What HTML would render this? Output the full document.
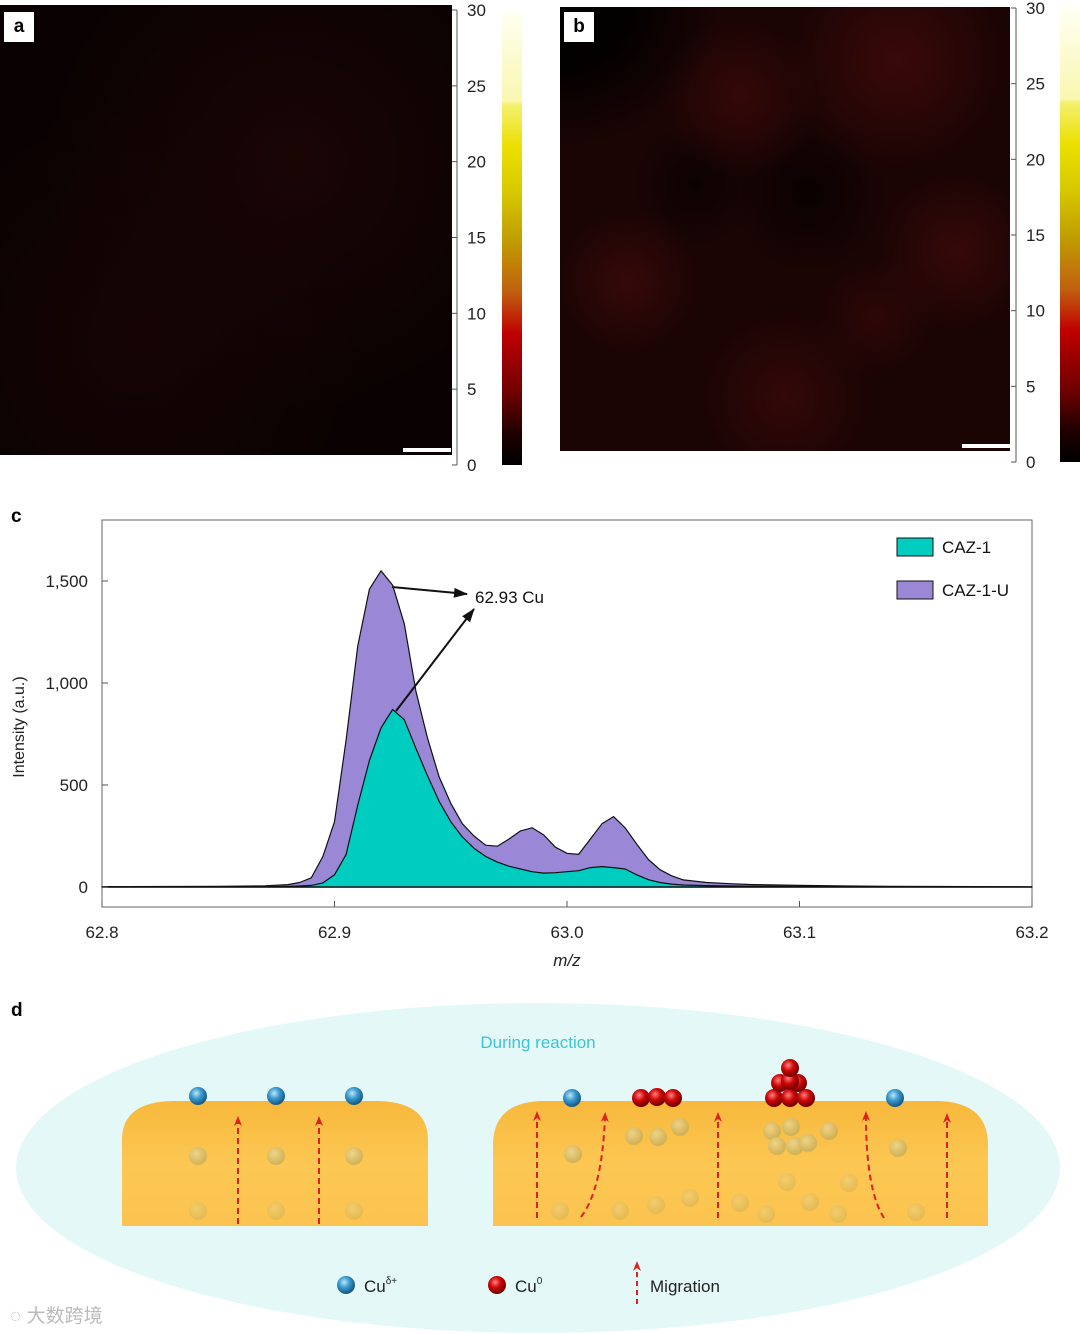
<!DOCTYPE html>
<html><head><meta charset="utf-8"><style>
body{margin:0;width:1080px;height:1334px;background:#fff;position:relative;overflow:hidden;font-family:"Liberation Sans",sans-serif}
.abs{position:absolute}
.cb{background:linear-gradient(to bottom,#fffff4 0%,#f9f7b0 20%,#f4f070 20.8%,#ece000 30%,#d8c800 40%,#c0a000 50%,#c06010 62%,#c00000 71%,#700000 84%,#200000 93%,#000 100%)}
.lbl{position:absolute;background:#fff;font-weight:bold;font-size:19px;width:30px;height:30px;line-height:30px;text-align:center}
</style></head><body>
<div class="abs" style="left:0;top:5px;width:452px;height:450px;background:radial-gradient(ellipse at 65% 35%,#1a0505,transparent 60%),radial-gradient(ellipse at 30% 75%,#160404,transparent 50%),#0a0202"></div>
<div class="lbl" style="left:4px;top:12px">a</div>
<div class="abs" style="left:403px;top:448px;width:48px;height:4px;background:#fff"></div>
<div class="abs" style="left:560px;top:7px;width:450px;height:444px;background:radial-gradient(ellipse 160px 140px at 0 0,#030000 40%,transparent 100%),radial-gradient(circle at 75% 12%,#3a0909 0,transparent 22%),radial-gradient(circle at 40% 20%,#340808 0,transparent 18%),radial-gradient(circle at 15% 62%,#360909 0,transparent 16%),radial-gradient(circle at 88% 55%,#360909 0,transparent 18%),radial-gradient(circle at 50% 88%,#330808 0,transparent 20%),radial-gradient(circle at 70% 70%,#2e0707 0,transparent 14%),radial-gradient(circle at 55% 42%,#0a0101 0,transparent 22%),radial-gradient(circle at 30% 40%,#0c0202 0,transparent 15%),#1a0404"></div>
<div class="lbl" style="left:564px;top:12px">b</div>
<div class="abs" style="left:962px;top:444px;width:48px;height:4px;background:#fff"></div>
<div class="abs cb" style="left:502px;top:10px;width:20px;height:455px"></div>
<div class="abs cb" style="left:1060px;top:8px;width:20px;height:454px"></div>
<svg class="abs" style="left:0;top:0" width="1080" height="1334">
<g id="cbaxes" font-size="17" fill="#222"></g>
<g id="chart"></g>
</svg>
<div class="abs" style="left:11px;top:506px;font-weight:bold;font-size:19px">c</div>
<div class="abs" style="left:11px;top:1000px;font-weight:bold;font-size:19px">d</div>
<svg class="abs" style="left:0;top:990px" width="1080" height="344">
<defs>
<linearGradient id="slab" x1="0" y1="0" x2="0" y2="1"><stop offset="0" stop-color="#f7b83c"/><stop offset="0.5" stop-color="#fcc752"/><stop offset="1" stop-color="#fbc450"/></linearGradient>
<radialGradient id="blue" cx="0.4" cy="0.35" r="0.6"><stop offset="0" stop-color="#bfe6f5"/><stop offset="0.5" stop-color="#3a9bd0"/><stop offset="1" stop-color="#1a5f8a"/></radialGradient>
<radialGradient id="red" cx="0.4" cy="0.35" r="0.6"><stop offset="0" stop-color="#ff8080"/><stop offset="0.5" stop-color="#d00808"/><stop offset="1" stop-color="#7a0000"/></radialGradient>
<radialGradient id="ghost" cx="0.4" cy="0.35" r="0.6"><stop offset="0" stop-color="#e8e0b0"/><stop offset="1" stop-color="#b8a860"/></radialGradient>
<marker id="ra" markerUnits="userSpaceOnUse" markerWidth="10" markerHeight="10" refX="5" refY="5" orient="auto"><path d="M0,1 L10,5 L0,9 L3,5 Z" fill="#e02020"/></marker>
</defs>
<ellipse cx="538" cy="178" rx="522" ry="165" fill="#e4f8f8"/>
<text x="538" y="58" text-anchor="middle" font-size="17" fill="#3cc6d0">During reaction</text>
<path d="M122,236 L122,150 Q122,111 175,111 L375,111 Q428,111 428,150 L428,236 Z" fill="url(#slab)"/>
<path d="M493,236 L493,155 Q493,111 545,111 L935,111 Q988,111 988,155 L988,236 Z" fill="url(#slab)"/>
<g opacity="0.6">
<circle cx="198" cy="166" r="9" fill="url(#ghost)"/><circle cx="276" cy="166" r="9" fill="url(#ghost)"/><circle cx="354" cy="166" r="9" fill="url(#ghost)"/>
<circle cx="198" cy="221" r="9" fill="url(#ghost)" opacity="0.5"/><circle cx="276" cy="221" r="9" fill="url(#ghost)" opacity="0.5"/><circle cx="354" cy="221" r="9" fill="url(#ghost)" opacity="0.5"/>
<circle cx="573" cy="164" r="9" fill="url(#ghost)"/><circle cx="634" cy="146" r="9" fill="url(#ghost)"/><circle cx="658" cy="147" r="9" fill="url(#ghost)"/><circle cx="680" cy="137" r="9" fill="url(#ghost)"/>
<circle cx="772" cy="141" r="9" fill="url(#ghost)"/><circle cx="791" cy="137" r="9" fill="url(#ghost)"/><circle cx="777" cy="156" r="9" fill="url(#ghost)"/><circle cx="795" cy="156" r="9" fill="url(#ghost)"/><circle cx="808" cy="153" r="9" fill="url(#ghost)"/><circle cx="829" cy="141" r="9" fill="url(#ghost)"/><circle cx="898" cy="158" r="9" fill="url(#ghost)"/>
<circle cx="560" cy="221" r="9" fill="url(#ghost)" opacity="0.5"/><circle cx="620" cy="221" r="9" fill="url(#ghost)" opacity="0.5"/><circle cx="656" cy="215" r="9" fill="url(#ghost)" opacity="0.5"/><circle cx="690" cy="208" r="9" fill="url(#ghost)" opacity="0.5"/><circle cx="740" cy="213" r="9" fill="url(#ghost)" opacity="0.5"/><circle cx="766" cy="224" r="9" fill="url(#ghost)" opacity="0.5"/><circle cx="787" cy="192" r="9" fill="url(#ghost)" opacity="0.5"/><circle cx="810" cy="212" r="9" fill="url(#ghost)" opacity="0.5"/><circle cx="838" cy="224" r="9" fill="url(#ghost)" opacity="0.5"/><circle cx="849" cy="193" r="9" fill="url(#ghost)" opacity="0.5"/><circle cx="916" cy="222" r="9" fill="url(#ghost)" opacity="0.5"/>
</g>
<g stroke="#e02020" stroke-width="2" stroke-dasharray="6,4" fill="none" marker-end="url(#ra)">
<path d="M238,234 L238,131"/><path d="M319,234 L319,131"/>
<path d="M537,228 L537,126"/><path d="M581,227 Q602,200 605,127"/><path d="M718,228 L718,127"/><path d="M884,228 Q866,200 866,126"/><path d="M947,228 L947,128"/>
</g>
<g>
<circle cx="198" cy="106" r="9" fill="url(#blue)"/><circle cx="276" cy="106" r="9" fill="url(#blue)"/><circle cx="354" cy="106" r="9" fill="url(#blue)"/><circle cx="572" cy="108" r="9" fill="url(#blue)"/><circle cx="895" cy="108" r="9" fill="url(#blue)"/>
</g>
<g>
<circle cx="641" cy="108" r="9" fill="url(#red)"/><circle cx="657" cy="107" r="9" fill="url(#red)"/><circle cx="673" cy="108" r="9" fill="url(#red)"/>
<circle cx="774" cy="108" r="9" fill="url(#red)"/><circle cx="790" cy="108" r="9" fill="url(#red)"/><circle cx="806" cy="108" r="9" fill="url(#red)"/>
<circle cx="780" cy="93" r="9" fill="url(#red)"/><circle cx="798" cy="93" r="9" fill="url(#red)"/><circle cx="790" cy="91" r="9" fill="url(#red)"/><circle cx="790" cy="78" r="9" fill="url(#red)"/>
</g>
<circle cx="346" cy="295" r="9" fill="url(#blue)"/>
<text x="364" y="302" font-size="17" fill="#222">Cu<tspan font-size="10" dy="-8">δ+</tspan></text>
<circle cx="497" cy="295" r="9" fill="url(#red)"/>
<text x="515" y="302" font-size="17" fill="#222">Cu<tspan font-size="10" dy="-8">0</tspan></text>
<path d="M637,314 L637,276" stroke="#e02020" stroke-width="2" stroke-dasharray="5,4" marker-end="url(#ra)"/>
<text x="650" y="302" font-size="17" fill="#222">Migration</text>
<text x="10" y="332" font-size="19" fill="#bbb" font-family="'Liberation Sans','Noto Sans CJK SC',sans-serif">◌ 大数跨境</text>
</svg>
<script>
const cbTicks=[0,5,10,15,20,25,30];
const mz=[62.80,62.85,62.87,62.88,62.885,62.89,62.895,62.90,62.905,62.91,62.915,62.92,62.925,62.93,62.935,62.94,62.945,62.95,62.955,62.96,62.965,62.97,62.975,62.98,62.985,62.99,62.995,63.00,63.005,63.01,63.015,63.02,63.025,63.03,63.035,63.04,63.045,63.05,63.06,63.07,63.08,63.10,63.12,63.14,63.20];
const cazU=[2,3,6,12,22,45,150,320,720,1180,1460,1550,1480,1290,960,730,540,410,310,250,205,200,235,275,290,255,195,165,160,235,310,345,290,210,135,85,55,35,22,16,12,8,5,3,1];
const caz=[0,0,1,3,5,8,20,60,160,400,620,780,870,820,680,545,420,320,245,190,150,122,102,88,75,68,70,75,80,95,100,95,88,60,36,22,14,10,7,5,4,3,2,1,0];
const xTicks=[62.8,62.9,63.0,63.1,63.2];
const yTicks=[0,500,1000,1500];
const yTickLabels=["0","500","1,000","1,500"];
const NS="http://www.w3.org/2000/svg";
function mk(t,a,p){const e=document.createElementNS(NS,t);for(const k in a)e.setAttribute(k,a[k]);p.appendChild(e);return e;}
const cba=document.getElementById('cbaxes');
[[457,10,465],[1016,8,462]].forEach(([ax,top,bot])=>{
  const cy=v=>bot-(v/30)*(bot-top);
  mk('line',{x1:ax,y1:top,x2:ax,y2:bot,stroke:'#555','stroke-width':1},cba);
  cbTicks.forEach(v=>{
    const l=mk('line',{x1:ax-5,y1:cy(v),x2:ax,y2:cy(v),stroke:'#555'},cba);
    
    
    const t=mk('text',{x:ax+10,y:cy(v)+6},cba);t.textContent=v;
    
    
  });
});
const g=document.getElementById('chart');
const X0=102,X1=1032,Y0=887,pxPer=306/1500;
const sx=v=>X0+(v-62.8)/(0.4)*(X1-X0);
const sy=v=>Y0-v*pxPer;
const fr=mk('rect',{x:X0,y:520,width:X1-X0,height:387,fill:'none',stroke:'#666','stroke-width':1},g);


function area(vals,fill,name){
  let d='M'+sx(mz[0])+','+Y0;
  mz.forEach((m,i)=>{d+=' L'+sx(m).toFixed(1)+','+sy(vals[i]).toFixed(1);});
  d+=' L'+sx(mz[mz.length-1])+','+Y0+' Z';
  const p=mk('path',{d:d,fill:fill,stroke:'#111','stroke-width':1.2,'stroke-linejoin':'round'},g);
  
  
}
area(cazU,'#9a88d6','area-caz-1-u');
area(caz,'#00cdc0','area-caz-1');
mk('line',{x1:X0,y1:Y0,x2:X1,y2:Y0,stroke:'#111','stroke-width':1.2},g);
xTicks.forEach(v=>{
  mk('line',{x1:sx(v),y1:907,x2:sx(v),y2:901,stroke:'#555'},g);
  const t=mk('text',{x:sx(v),y:938,'text-anchor':'middle','font-size':17,fill:'#222'},g);
  t.textContent=v.toFixed(1);
  
  
});
yTicks.forEach((v,i)=>{
  mk('line',{x1:X0,y1:sy(v),x2:X0+6,y2:sy(v),stroke:'#555'},g);
  const t=mk('text',{x:88,y:sy(v)+6,'text-anchor':'end','font-size':17,fill:'#222'},g);
  t.textContent=yTickLabels[i];
  
  
});
const xt=mk('text',{x:567,y:966,'text-anchor':'middle','font-size':17,'font-style':'italic',fill:'#222'},g);xt.textContent='m/z';


const yt=mk('text',{x:0,y:0,'text-anchor':'middle','font-size':16,fill:'#222',transform:'translate(24,727) rotate(-90)'},g);yt.textContent='Intensity (a.u.)';


const defs=mk('defs',{},g);
const m=mk('marker',{id:'ka',markerUnits:'userSpaceOnUse',markerWidth:14,markerHeight:12,refX:13,refY:6,orient:'auto'},defs);
mk('path',{d:'M0,1 L14,6 L0,11 Z',fill:'#111'},m);
const a1=mk('line',{x1:392,y1:587,x2:467,y2:594,stroke:'#111','stroke-width':2,'marker-end':'url(#ka)'},g);


const a2=mk('line',{x1:396,y1:711,x2:474,y2:609,stroke:'#111','stroke-width':2,'marker-end':'url(#ka)'},g);


const at=mk('text',{x:475,y:603,'font-size':17,fill:'#111'},g);at.textContent='62.93 Cu';


[['CAZ-1','#00cdc0',538],['CAZ-1-U','#9a88d6',581]].forEach(([n,c,y])=>{
  const r=mk('rect',{x:897,y:y,width:36,height:18,fill:c,stroke:'#111'},g);
  
  
  const t=mk('text',{x:942,y:y+15,'font-size':17,fill:'#111'},g);t.textContent=n;
  
  
});
</script>
</body></html>
